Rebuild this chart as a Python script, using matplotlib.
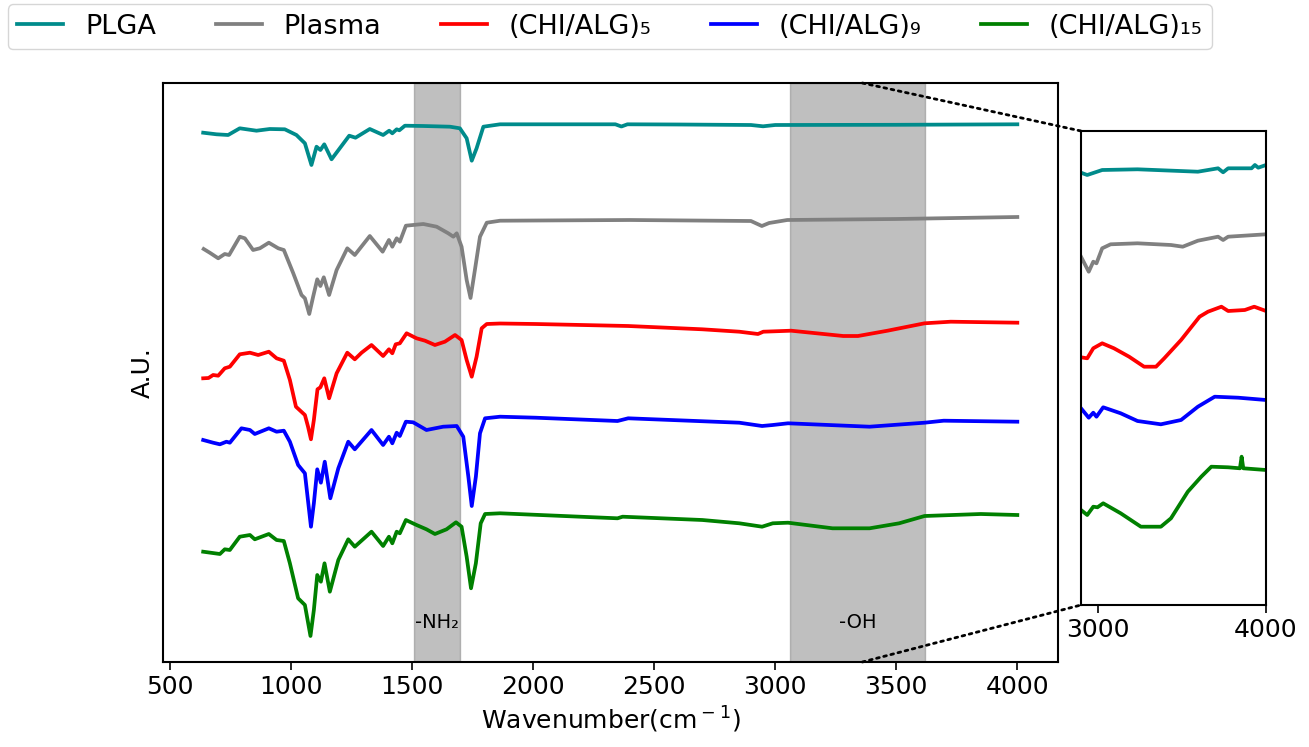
import matplotlib
matplotlib.use("Agg")
import matplotlib.pyplot as plt
from matplotlib.patches import ConnectionPatch

# ---------------- data ----------------
labels = ["PLGA", "Plasma", "(CHI/ALG)₅", "(CHI/ALG)₉", "(CHI/ALG)₁₅"]
colors = ["darkcyan", "gray", "red", "blue", "green"]

plga_x = [638, 693, 741, 789, 858, 913, 975, 1023, 1058, 1085, 1106, 1122, 1138, 1168, 1202, 1241,
          1267, 1326, 1381, 1406, 1419, 1437, 1448, 1471, 1547, 1657, 1698, 1726, 1747, 1767, 1795,
          1864, 2340, 2365, 2390, 2600, 2900, 2950, 3000, 3500, 4000]
plga_y = [5.673, 5.657, 5.650, 5.717, 5.693, 5.710, 5.707, 5.650, 5.567, 5.350, 5.533, 5.500, 5.557,
          5.407, 5.517, 5.643, 5.623, 5.710, 5.650, 5.693, 5.667, 5.707, 5.697, 5.743, 5.740, 5.733,
          5.717, 5.617, 5.393, 5.517, 5.733, 5.757, 5.757, 5.735, 5.757, 5.755, 5.750, 5.737, 5.750,
          5.752, 5.757]

plasma_x = [640, 665, 700, 727, 745, 789, 810, 844, 872, 909, 948, 971, 1010, 1044, 1058, 1076, 1092,
            1109, 1122, 1136, 1158, 1189, 1233, 1264, 1326, 1379, 1405, 1419, 1437, 1450, 1475, 1547,
            1602, 1650, 1671, 1685, 1705, 1726, 1742, 1760, 1781, 1809, 1864, 2400, 2900, 2945, 2975,
            3050, 3500, 4000]
plasma_y = [4.510, 4.473, 4.417, 4.460, 4.450, 4.633, 4.617, 4.500, 4.517, 4.573, 4.517, 4.500, 4.267,
            4.050, 4.017, 3.860, 4.033, 4.207, 4.140, 4.227, 4.050, 4.300, 4.517, 4.450, 4.640, 4.483,
            4.600, 4.533, 4.617, 4.583, 4.743, 4.760, 4.733, 4.667, 4.633, 4.667, 4.533, 4.200, 4.020,
            4.300, 4.633, 4.773, 4.793, 4.800, 4.790, 4.740, 4.770, 4.800, 4.810, 4.830]

chi5_x = [638, 660, 679, 700, 727, 748, 789, 831, 865, 909, 941, 971, 996, 1021, 1058, 1071, 1083, 1095,
          1110, 1122, 1138, 1158, 1189, 1233, 1264, 1292, 1333, 1381, 1405, 1419, 1433, 1450, 1478, 1519,
          1554, 1595, 1636, 1678, 1705, 1726, 1747, 1767, 1788, 1809, 1864, 2011, 2393, 2699, 2852, 2929,
          2951, 3066, 3281, 3342, 3464, 3617, 3725, 4000]
chi5_y = [3.217, 3.220, 3.250, 3.243, 3.317, 3.333, 3.457, 3.473, 3.450, 3.483, 3.417, 3.393, 3.200,
          2.933, 2.850, 2.733, 2.607, 2.800, 3.107, 3.127, 3.217, 3.017, 3.267, 3.473, 3.407, 3.473,
          3.550, 3.440, 3.507, 3.467, 3.557, 3.567, 3.667, 3.617, 3.593, 3.550, 3.583, 3.650, 3.600,
          3.400, 3.233, 3.433, 3.717, 3.760, 3.765, 3.760, 3.740, 3.707, 3.683, 3.660, 3.683, 3.693,
          3.640, 3.640, 3.693, 3.767, 3.783, 3.773]

chi9_x = [638, 679, 707, 734, 748, 796, 831, 851, 909, 941, 971, 996, 1030, 1058, 1083, 1095, 1109, 1124,
          1140, 1163, 1196, 1237, 1264, 1333, 1381, 1405, 1419, 1437, 1450, 1475, 1505, 1560, 1629, 1685,
          1712, 1733, 1747, 1764, 1781, 1802, 1864, 2011, 2349, 2393, 2852, 2946, 2990, 3053, 3390, 3617,
          3696, 4000]
chi9_y = [2.600, 2.573, 2.557, 2.583, 2.573, 2.717, 2.700, 2.660, 2.717, 2.683, 2.693, 2.583, 2.350,
          2.267, 1.733, 1.967, 2.307, 2.173, 2.383, 2.017, 2.317, 2.583, 2.507, 2.700, 2.550, 2.633,
          2.567, 2.673, 2.640, 2.783, 2.777, 2.700, 2.733, 2.740, 2.633, 2.233, 1.940, 2.233, 2.667,
          2.817, 2.833, 2.823, 2.790, 2.817, 2.773, 2.740, 2.750, 2.767, 2.733, 2.773, 2.793, 2.783]

chi15_x = [638, 707, 727, 748, 789, 831, 851, 909, 941, 971, 996, 1030, 1058, 1081, 1095, 1109, 1124, 1139,
           1161, 1196, 1237, 1264, 1333, 1381, 1405, 1419, 1437, 1450, 1475, 1519, 1560, 1595, 1643, 1682,
           1705, 1726, 1744, 1764, 1784, 1802, 1864, 2349, 2370, 2699, 2852, 2946, 2990, 3053, 3237, 3390,
           3512, 3617, 3849, 4000]
chi15_y = [1.483, 1.460, 1.507, 1.500, 1.633, 1.650, 1.607, 1.660, 1.600, 1.590, 1.367, 1.017, 0.950,
           0.640, 0.900, 1.250, 1.183, 1.367, 1.083, 1.400, 1.607, 1.533, 1.683, 1.540, 1.633, 1.567,
           1.683, 1.667, 1.800, 1.750, 1.707, 1.660, 1.707, 1.777, 1.733, 1.433, 1.117, 1.367, 1.767,
           1.860, 1.867, 1.817, 1.833, 1.800, 1.767, 1.733, 1.767, 1.773, 1.717, 1.717, 1.767, 1.840,
           1.860, 1.850]

# inset (2900-4000 cm-1, separately scaled)
ins_plga_x = [2900, 2937, 3026, 3236, 3595, 3715, 3745, 3775, 3914, 3934, 3954, 4000]
ins_plga_y = [5.273, 5.250, 5.300, 5.307, 5.283, 5.317, 5.277, 5.317, 5.317, 5.350, 5.323, 5.350]
ins_plasma_x = [2900, 2946, 2973, 2992, 3026, 3076, 3236, 3435, 3505, 3595, 3715, 3745, 3775, 4000]
ins_plasma_y = [4.433, 4.283, 4.383, 4.367, 4.517, 4.557, 4.567, 4.550, 4.533, 4.593, 4.633, 4.600,
                4.633, 4.657]
ins_chi5_x = [2900, 2937, 2973, 3026, 3096, 3186, 3275, 3346, 3395, 3495, 3605, 3655, 3735, 3775, 3874,
              3930, 4000]
ins_chi5_y = [3.427, 3.417, 3.517, 3.567, 3.517, 3.433, 3.333, 3.333, 3.417, 3.600, 3.833, 3.883, 3.933,
              3.890, 3.900, 3.933, 3.890]
ins_chi9_x = [2900, 2946, 2973, 2992, 3032, 3136, 3236, 3375, 3495, 3595, 3695, 3835, 4000]
ins_chi9_y = [2.917, 2.823, 2.873, 2.833, 2.927, 2.867, 2.790, 2.757, 2.800, 2.933, 3.033, 3.023, 3.000]
ins_chi15_x = [2900, 2937, 2973, 2998, 3032, 3136, 3256, 3375, 3435, 3535, 3615, 3675, 3775, 3845, 3855,
               3865, 4000]
ins_chi15_y = [1.900, 1.850, 1.933, 1.927, 1.967, 1.867, 1.733, 1.733, 1.817, 2.083, 2.233, 2.333, 2.327,
               2.317, 2.433, 2.317, 2.300]

bands = [(1510, 1700, "-NH₂"), (3060, 3620, "-OH")]

main_series = [(plga_x, plga_y), (plasma_x, plasma_y), (chi5_x, chi5_y), (chi9_x, chi9_y),
               (chi15_x, chi15_y)]
inset_series = [(ins_plga_x, ins_plga_y), (ins_plasma_x, ins_plasma_y), (ins_chi5_x, ins_chi5_y),
                (ins_chi9_x, ins_chi9_y), (ins_chi15_x, ins_chi15_y)]

# ---------------- figure ----------------
W, H = 1309, 747
fig = plt.figure(figsize=(W / 100, H / 100), dpi=100)

def frac_axes(l, t, r, b):
    return fig.add_axes([l / W, 1 - b / H, (r - l) / W, (b - t) / H])

ax = frac_axes(163, 83, 1058, 662)
axins = frac_axes(1081, 131, 1266, 605)

handles = []
for (x, y), c, lab in zip(main_series, colors, labels):
    h, = ax.plot(x, y, color=c, lw=2.7, label=lab, solid_joinstyle="round")
    handles.append(h)
for (x, y), c in zip(inset_series, colors):
    axins.plot(x, y, color=c, lw=2.7, solid_joinstyle="round")

for lo, hi, txt in bands:
    ax.axvspan(lo, hi, color="gray", alpha=0.5, zorder=1)
    ax.text((lo + hi) / 2, 0.78, txt, ha="center", va="center", fontsize=14)

ax.set_xlim(472, 4168)
ax.set_ylim(0.38, 6.17)
ax.set_yticks([])
ax.set_xticks([500, 1000, 1500, 2000, 2500, 3000, 3500, 4000])
ax.tick_params(axis="x", labelsize=18, length=6, width=1.2)
ax.set_xlabel("Wavenumber(cm$^-$$^1$)", fontsize=18)
ax.set_ylabel("A.U.", fontsize=18, labelpad=6)

axins.set_xlim(2900, 4000)
axins.set_ylim(0.95, 5.69)
axins.set_yticks([])
axins.set_xticks([3000, 4000])
axins.tick_params(axis="x", labelsize=18, length=6, width=1.2)

for a in (ax, axins):
    for s in a.spines.values():
        s.set_linewidth(1.5)

# connector lines
for ya, yb in ((6.17, 5.69), (0.38, 0.95)):
    con = ConnectionPatch(xyA=(3360, ya), coordsA=ax.transData,
                          xyB=(2900, yb), coordsB=axins.transData,
                          linestyle=":", lw=2, color="black")
    fig.add_artist(con)

fig.legend(handles=handles, loc="upper left", bbox_to_anchor=(0.004, 0.998), ncol=5,
           fontsize=19.5, frameon=True, handlelength=1.7, handletextpad=0.8,
           columnspacing=2.2, borderaxespad=0.1, borderpad=0.35)

fig.savefig("out.png", dpi=100)
